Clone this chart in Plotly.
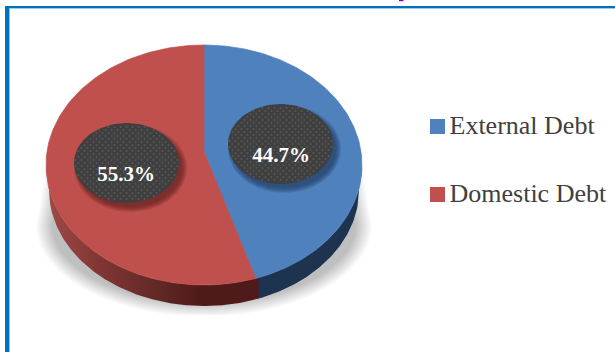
import numpy as np
import plotly.graph_objects as go

# Share of total public debt, in percent
categories = ["External Debt", "Domestic Debt"]
shares = [44.7, 55.3]
slice_colors = ["#4f81bd", "#c0504d"]

W, H = 615, 352
CX, CY, RX, RY = 204.0, 165.0, 158.0, 120.0   # top face of the disc
APEX_Y = 152.0                                 # perspective centre of the slices
BOT_CY, BOT_RX, BOT_RY = 190.0, 155.0, 116.0   # lower rim of the disc
BADGES = [(280.5, 144.0, 52.5, 40.0, 281, 157), (126.5, 163.0, 52.5, 40.0, 126, 176)]
KEY_ROWS = [127.5, 195.5]

fig = go.Figure()


def poly(x, y, color, opacity=1.0, edge=0, **kw):
    fig.add_trace(go.Scatter(x=list(x), y=list(y), mode="lines", fill="toself", fillcolor=color,
                             line=dict(width=edge, color=color), opacity=opacity, showlegend=False,
                             hoverinfo="skip", **kw))


def top_point(frac):
    a = 2 * np.pi * np.asarray(frac)
    return CX + RX * np.sin(a), CY - RY * np.cos(a)


def upper_rim(x):
    return CY + RY * np.sqrt(np.clip(1 - ((x - CX) / RX) ** 2, 0, 1))


def lower_rim(x):
    return BOT_CY + BOT_RY * np.sqrt(np.clip(1 - ((x - CX) / BOT_RX) ** 2, 0, 1))


def wall(x0, x1, color, **kw):
    # Band between the two rims; the lower rim is slightly narrower than the upper one
    up = np.linspace(x0, x1, 200)
    low = np.linspace(min(x1, CX + BOT_RX), max(x0, CX - BOT_RX), 200)
    poly(np.r_[up, low], np.r_[upper_rim(up), lower_rim(low)], color, **kw)


# Soft ground shadow, built from stacked translucent outlines and cut off at the floor
FLOOR = 315.0
for k in range(16):
    t = k / 15
    rx, ry = 168 - 16 * t, 92 - 14 * t
    a = np.linspace(0, np.pi, 80)
    sx = 204 + rx * np.cos(a)
    sy = np.minimum(225 + ry * np.sin(a), FLOOR)
    poly(np.r_[sx, 204 - rx + 10, 204 + rx - 10, sx[0]],
         np.r_[sy, 168, 168, sy[0]], "#000000", opacity=0.017)

# Side wall of the disc, split under the slice boundary
split_x, split_y = top_point(shares[0] / sum(shares))
boundary = split_x + 3
wall(boundary - 1, CX + RX, "#1d3350")
wall(CX - RX, boundary, "#4f1b1a",
     fillgradient=dict(type="horizontal", start=46, stop=259,
                       colorscale=[[0, "#a04a47"], [0.25, "#803634"], [0.55, "#5f2725"], [0.72, "#4f1b1a"], [1, "#4f1b1a"]]))

# Slices of the top face, clockwise from twelve o'clock
start = 0.0
for share, color in zip(shares, slice_colors):
    frac = share / sum(shares)
    px, py = top_point(np.linspace(start, start + frac, 160))
    poly(np.r_[CX, px, CX], np.r_[APEX_Y, py, APEX_Y], color, edge=0.7)
    start += frac

# Dark badges with a drop shadow and a dotted surface
for (bx, by, brx, bry, _, _), color in zip(BADGES, ["#1f3a5c", "#5c2220"]):
    a = np.linspace(0, 2 * np.pi, 120)
    for k in range(6):
        g = 4 - k
        poly(bx + 4 + (brx + g) * np.cos(a), by + 5 + (bry + g) * np.sin(a), color, opacity=0.16)
    poly(bx + brx * np.cos(a), by + bry * np.sin(a), "#3f3f3f")
    gx, gy = np.meshgrid(np.arange(-60, 60, 6.0), np.arange(-48, 48, 3.0))
    gx = gx + 3 * (np.arange(gy.shape[0]) % 2)[:, None]
    inside = (gx / (brx - 1)) ** 2 + (gy / (bry - 1)) ** 2 < 1
    fig.add_trace(go.Scatter(x=bx + gx[inside], y=by + gy[inside], mode="markers",
                             marker=dict(size=2.0, color="#575757", line=dict(width=0)),
                             showlegend=False, hoverinfo="skip"))

# Value labels
for share, (_, _, _, _, lx, ly) in zip(shares, BADGES):
    fig.add_trace(go.Scatter(x=[lx], y=[ly], mode="text", text=[f"{share}%"], textposition="middle center",
                             textfont=dict(family="Liberation Serif", size=21, color="#ffffff", weight="bold"),
                             showlegend=False, hoverinfo="skip"))

# Colour key beside the disc
fig.add_trace(go.Scatter(x=[437.5] * len(categories), y=[r - 1 for r in KEY_ROWS], mode="markers",
                         marker=dict(symbol="square", size=15, color=slice_colors, line=dict(width=0)),
                         showlegend=False, hoverinfo="skip"))
fig.add_trace(go.Scatter(x=[449.5] * len(categories), y=KEY_ROWS, mode="text", text=categories,
                         textposition="middle right",
                         textfont=dict(family="Liberation Serif", size=26, color="#404040"),
                         showlegend=False, hoverinfo="skip"))

# Page frame in blue
frame = [
    dict(x0=5, x1=615, y0=6, y1=8, fillcolor="#0070c0"),
    dict(x0=9.3, x1=615, y0=8, y1=8.7, fillcolor="#7fb8e0"),
    dict(x0=5, x1=9.3, y0=6, y1=352, fillcolor="#0070c0"),
    dict(x0=9.3, x1=10, y0=8, y1=352, fillcolor="#7fb8e0"),
    dict(x0=399, x1=403.5, y0=0, y1=1.2, fillcolor="#7000d0"),
]
fig.update_layout(
    width=W, height=H, margin=dict(l=0, r=0, t=0, b=0, autoexpand=False),
    paper_bgcolor="#ffffff", plot_bgcolor="#ffffff", hovermode=False, showlegend=False,
    xaxis=dict(range=[0, W], visible=False, fixedrange=True),
    yaxis=dict(range=[H, 0], visible=False, fixedrange=True),
    shapes=[dict(type="rect", line=dict(width=0), layer="below", **f) for f in frame],
)
fig.write_html("out.html", config=dict(displayModeBar=False))
